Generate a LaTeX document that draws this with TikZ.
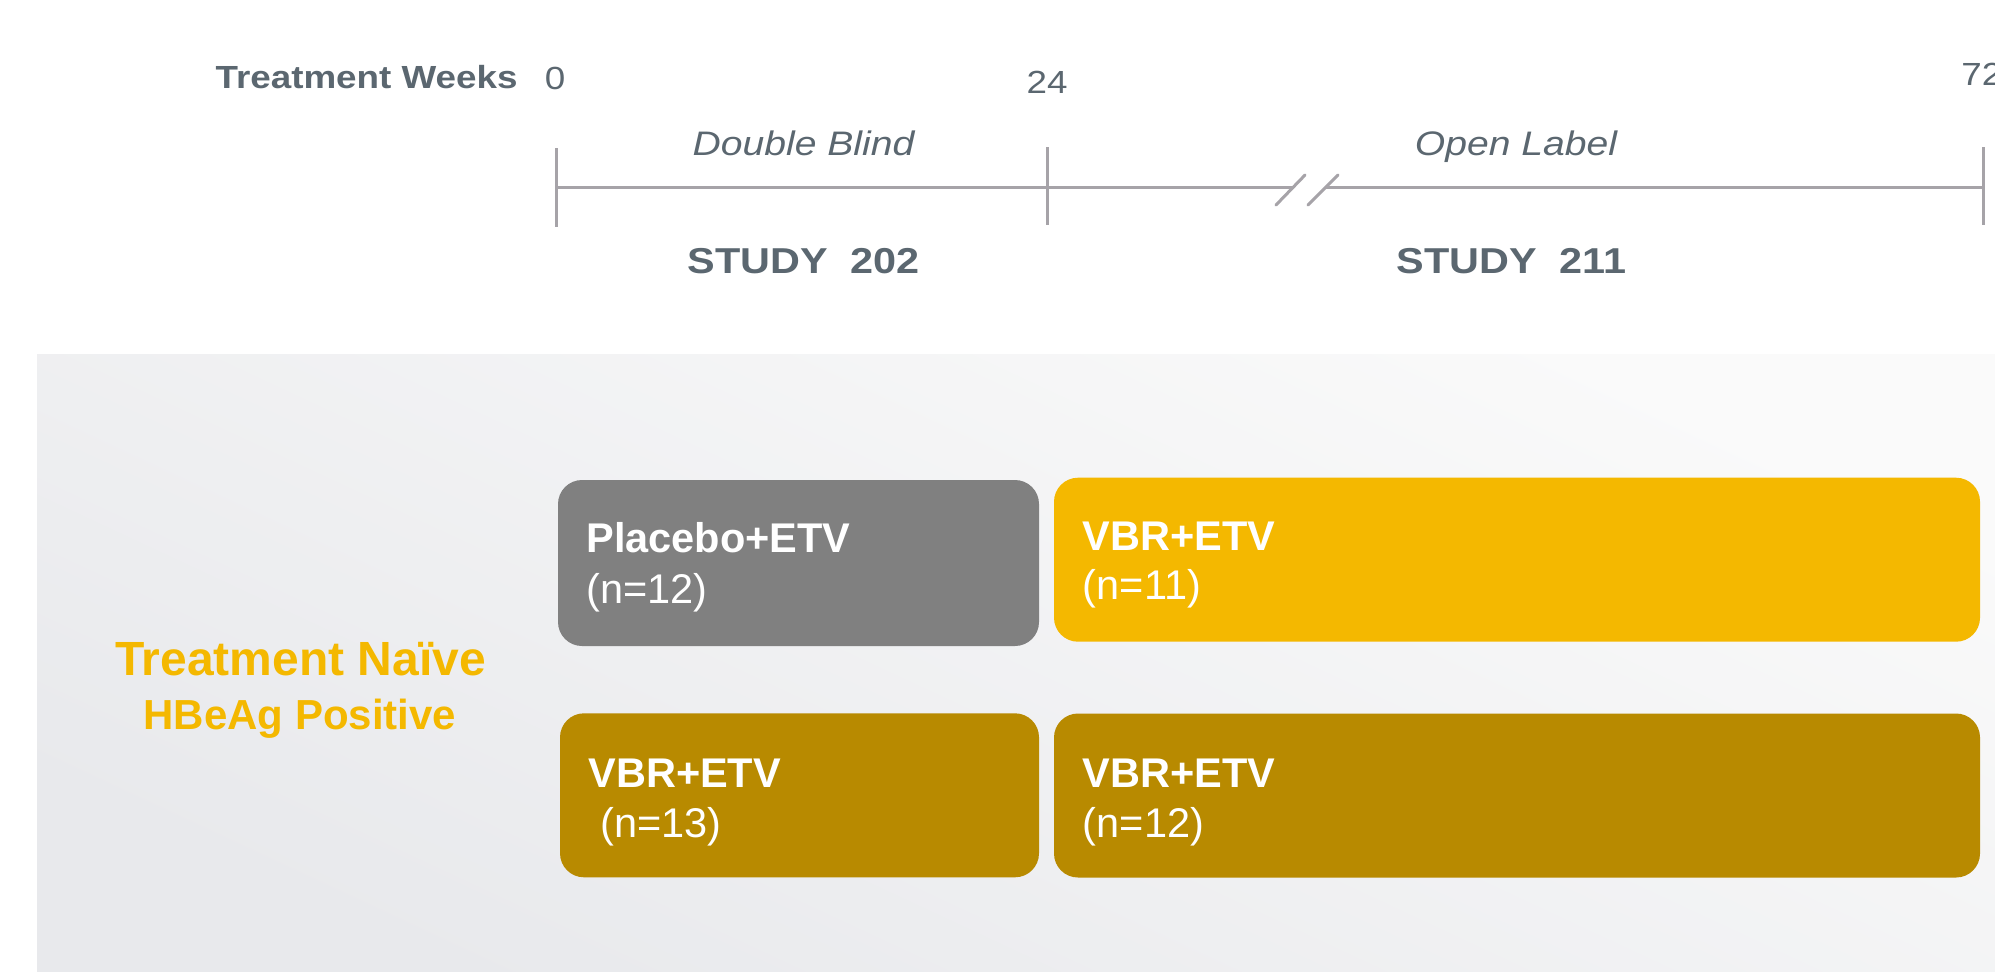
\documentclass[tikz,border=0pt]{standalone}
\usepackage{fontspec}
\setmainfont{Liberation Sans}
\newfontfamily\hdr{Liberation Sans}[FakeStretch=1.15]
\definecolor{hdrtxt}{RGB}{91,103,112}
\definecolor{axisgray}{RGB}{166,163,168}
\definecolor{boxgray}{RGB}{128,128,128}
\definecolor{boxyellow}{RGB}{244,184,0}
\definecolor{boxgold}{RGB}{184,138,0}
\definecolor{bgLight}{RGB}{250,250,250}
\definecolor{bgDark}{RGB}{232,233,236}
\begin{document}
\begin{tikzpicture}[x=0.5pt,y=-0.5pt,
  arm/.style={rounded corners=12pt, draw=none, inner sep=0pt, minimum height=82pt},
  armhead/.style={anchor=base west, inner sep=0pt, text=white, font=\bfseries\fontsize{20.75}{25}\selectfont},
  armn/.style={anchor=base west, inner sep=0pt, text=white, font=\fontsize{20.75}{25}\selectfont},
  axisline/.style={draw=axisgray, line width=1.5pt},
  hdrlab/.style={inner sep=0pt, text=hdrtxt},
  weeknum/.style={hdrlab, font=\hdr\fontsize{16}{19}\selectfont},
  phase/.style={hdrlab, anchor=base, font=\hdr\itshape\fontsize{17}{20}\selectfont},
  study/.style={hdrlab, anchor=base, font=\hdr\bfseries\fontsize{18}{21}\selectfont},
  pop/.style={inner sep=0pt, anchor=base, text=boxyellow, font=\bfseries},
]
\useasboundingbox (0,0) rectangle (1995,971);
\fill[white] (0,0) rectangle (1995,971);
% background panel
\shade[top color=bgLight, bottom color=bgDark, shading angle=-25] (37,354) rectangle (1995,971);

% timeline
\coordinate (t0) at (556,187);
\coordinate (t0a) at (556,148);
\coordinate (t0b) at (556,227);
\coordinate (t24) at (1047.5,187);
\coordinate (t24a) at (1047.5,147);
\coordinate (t24b) at (1047.5,225);
\coordinate (t72) at (1983.5,187);
\coordinate (t72a) at (1983.5,147);
\coordinate (t72b) at (1983.5,225);
\coordinate (bk1) at (1293,187);
\coordinate (bk2) at (1325,187);
\coordinate (s1a) at (1276,205);
\coordinate (s1b) at (1305,175);
\coordinate (s2a) at (1308,205);
\coordinate (s2b) at (1338,175);
\draw[axisline] (t0a) -- (t0b);
\draw[axisline] (t24a) -- (t24b);
\draw[axisline] (t72a) -- (t72b);
\draw[axisline] (t0) -- (t24) -- (bk1);
\draw[axisline] (bk2) -- (t72);
\draw[axisline, line cap=round] (s1a) -- (s1b);
\draw[axisline, line cap=round] (s2a) -- (s2b);

% header labels
\node[hdrlab, anchor=base east, font=\hdr\bfseries\fontsize{16}{19}\selectfont] (tw) at (518,88) {Treatment Weeks};
\node[weeknum, anchor=base] (w0) at (555,89) {0};
\node[weeknum, anchor=base] (w24) at (1047,93) {24};
\node[weeknum, anchor=base west] (w72) at (1961,85) {72};
\node[phase] (db) at (803.5,155) {Double Blind};
\node[phase] (ol) at (1516,155) {Open Label};
\node[study] (s202) at (803.5,273) {STUDY\hspace{0.3em} 202};
\node[study] (s211) at (1511.5,273) {STUDY\hspace{0.3em} 211};

% population label
\node[pop, font=\bfseries\fontsize{24}{28}\selectfont] (tn) at (300.6,675) {Treatment Naïve};
\node[pop, font=\bfseries\fontsize{21}{25}\selectfont] (hb) at (300,729.5) {HBeAg Positive};

% arms
\node[arm, fill=boxgray, minimum width=240.5pt, minimum height=83pt] (pl) at (798.5,563) {};
\node[arm, fill=boxyellow, minimum width=463pt] (tr) at (1517,559.7) {};
\node[arm, fill=boxgold, minimum width=239.5pt] (bl) at (799.5,795.3) {};
\node[arm, fill=boxgold, minimum width=463pt] (br) at (1517,795.5) {};

\node[armhead] (plh) at (586,552.5) {Placebo+ETV};
\node[armn] (pln) at (586,603.6) {(n=12)};
\node[armhead] (trh) at (1082.5,550) {VBR+ETV};
\node[armn] (trn) at (1082.5,599.5) {(n=11)};
\node[armhead] (blh) at (588,787) {VBR+ETV};
\node[armn] (bln) at (600,837) {(n=13)};
\node[armhead] (brh) at (1082.5,787) {VBR+ETV};
\node[armn] (brn) at (1082.5,837) {(n=12)};
\end{tikzpicture}
\end{document}
